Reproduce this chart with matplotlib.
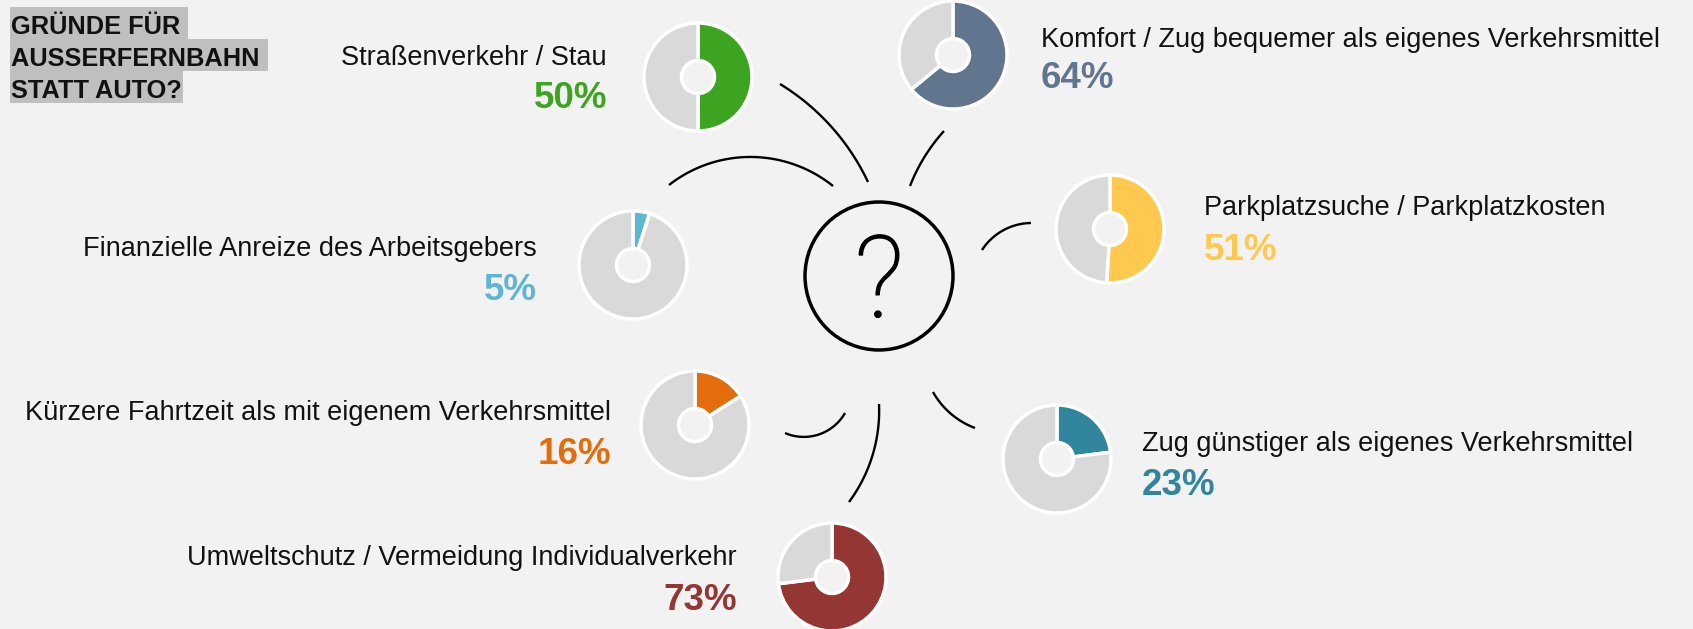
import matplotlib
matplotlib.use("Agg")
import matplotlib.pyplot as plt
import numpy as np
from matplotlib.patches import Circle, Rectangle
import matplotlib.patheffects as pe

# ---------------- data ----------------
categories = [
    "Straßenverkehr / Stau",
    "Komfort / Zug bequemer als eigenes Verkehrsmittel",
    "Parkplatzsuche / Parkplatzkosten",
    "Finanzielle Anreize des Arbeitsgebers",
    "Kürzere Fahrtzeit als mit eigenem Verkehrsmittel",
    "Zug günstiger als eigenes Verkehrsmittel",
    "Umweltschutz / Vermeidung Individualverkehr",
]
values = [50, 64, 51, 5, 16, 23, 73]
colors = ["#3da422", "#62758f", "#ffc84f", "#5fb6d3", "#e46c0a", "#31859c", "#943634"]
title_lines = ["GRÜNDE FÜR ", "AUSSERFERNBAHN ", "STATT AUTO?"]

# ---------------- layout (pixel coords, y from top) ----------------
W, H = 1693, 629
BG = "#f2f2f2"
GREY = "#d9d9d9"
donut_xy = [(698, 77), (953, 55), (1110, 229), (633, 265), (695, 425), (1057, 459), (832, 577)]
label_xy = [(607, 65), (1041, 47), (1204, 215), (537, 256), (611, 420), (1142, 451), (737, 565)]
pct_dy = [43, 41, 45, 44, 44, 44, 45]
label_ha = ["right", "left", "left", "right", "right", "left", "right"]

R_OUT, R_IN = 54, 16.5

# decorative arcs: three points each (px coords)
arcs = [
    [(780, 84), (840, 137), (868, 182)],
    [(669, 185), (753, 157), (833, 186)],
    [(944, 131), (927, 153), (910, 186)],
    [(982, 250), (1002, 231), (1031, 223)],
    [(785, 433), (810, 436.5), (845, 413)],
    [(879, 404), (872, 457), (849, 502)],
    [(933, 392), (950, 413), (975, 428)],
]

plt.rcParams["font.family"] = ["Liberation Sans", "DejaVu Sans"]

fig = plt.figure(figsize=(W / 100, H / 100), dpi=100, facecolor=BG)
ax = fig.add_axes([0, 0, 1, 1])
ax.set_facecolor(BG)


def Y(y):
    return H - y


# donuts
for v, c, (cx, cy) in zip(values, colors, donut_xy):
    ax.pie([v, 100 - v], colors=[c, GREY], startangle=90, counterclock=False,
           radius=R_OUT, center=(cx, Y(cy)),
           wedgeprops=dict(width=R_OUT - R_IN, edgecolor="white", linewidth=2.5))

# labels and percentages
for cat, v, c, (lx, ly), dy, ha in zip(categories, values, colors, label_xy, pct_dy, label_ha):
    ax.text(lx, Y(ly), cat, ha=ha, va="baseline", fontsize=19.5, color="#111111")
    ax.text(lx, Y(ly + dy), f"{v}%", ha=ha, va="baseline", fontsize=26.5,
            fontweight="bold", color=c)

ax.set_xlim(0, W)
ax.set_ylim(0, H)
ax.set_aspect("auto")
ax.axis("off")

# title with grey highlight per line
title_texts = []
for i, line in enumerate(title_lines):
    t = ax.text(11, Y(34 + 32 * i), line, ha="left", va="baseline", fontsize=18.3,
                fontweight="bold", color="#111111", zorder=3)
    title_texts.append(t)
fig.canvas.draw()
renderer = fig.canvas.get_renderer()
for i, t in enumerate(title_texts):
    bb = t.get_window_extent(renderer)
    base = 34 + 32 * i
    ax.add_patch(Rectangle((10, Y(base + 5)), bb.x1 + 1 - 10, 32,
                           facecolor="#bfbfbf", edgecolor="none", zorder=2))

# central circle with question mark
ax.add_patch(Circle((879, Y(276)), 74, facecolor="none", edgecolor="black", linewidth=2.5, zorder=4))
ax.text(879, Y(317), "?", ha="center", va="baseline", fontsize=82,
        family=["Roboto", "DejaVu Sans"], fontweight=100, color="black", zorder=4,
        path_effects=[pe.withStroke(linewidth=1.1, foreground="black")])


# arcs
def circle3(p1, p2, p3):
    (x1, y1), (x2, y2), (x3, y3) = p1, p2, p3
    d = 2 * (x1 * (y2 - y3) + x2 * (y3 - y1) + x3 * (y1 - y2))
    ux = ((x1**2 + y1**2) * (y2 - y3) + (x2**2 + y2**2) * (y3 - y1) + (x3**2 + y3**2) * (y1 - y2)) / d
    uy = ((x1**2 + y1**2) * (x3 - x2) + (x2**2 + y2**2) * (x1 - x3) + (x3**2 + y3**2) * (x2 - x1)) / d
    return ux, uy


for pts in arcs:
    p = [(x, Y(y)) for x, y in pts]
    cx, cy = circle3(*p)
    r = np.hypot(p[0][0] - cx, p[0][1] - cy)
    a1 = np.arctan2(p[0][1] - cy, p[0][0] - cx)
    a2 = np.arctan2(p[1][1] - cy, p[1][0] - cx)
    a3 = np.arctan2(p[2][1] - cy, p[2][0] - cx)

    def norm(a):
        return (a - a1) % (2 * np.pi)
    if norm(a2) < norm(a3):
        t = np.linspace(a1, a1 + norm(a3), 100)
    else:
        t = np.linspace(a1, a1 - (2 * np.pi - norm(a3)), 100)
    ax.plot(cx + r * np.cos(t), cy + r * np.sin(t), color="black", linewidth=1.7,
            solid_capstyle="butt", zorder=4)

ax.set_xlim(0, W)
ax.set_ylim(0, H)

fig.savefig("out.png", dpi=100, facecolor=BG)
